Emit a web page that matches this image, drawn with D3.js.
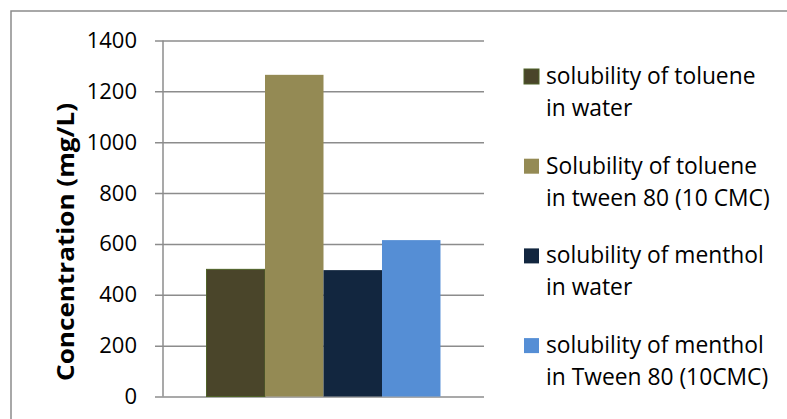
<!DOCTYPE html>
<html>
<head>
<meta charset="utf-8">
<script src="https://cdn.jsdelivr.net/npm/d3@7"></script>
<style>
  body { margin: 0; background: #fff; }
  text { font-family: "Open Sans", "Noto Sans", sans-serif; fill: #000; }
</style>
</head>
<body>
<div id="chart"></div>
<script>
// chart values
const categories = ["solubility"];
const seriesNames = [
  ["solubility of toluene", "in water"],
  ["Solubility of toluene", "in tween 80 (10 CMC)"],
  ["solubility of menthol", "in water"],
  ["solubility of menthol", "in Tween 80 (10CMC)"]
];
const seriesValues = [500, 1265, 497, 615];
const seriesColors = ["#4a452a", "#948a54", "#12263f", "#558ed5"];
const seriesStrokes = ["#4f6228", "none", "none", "none"];
const yTicks = [0, 200, 400, 600, 800, 1000, 1200, 1400];
const yTitle = "Concentration (mg/L)";

const width = 787, height = 419;
const margin = {top: 40.5, left: 163, right: 303, bottom: 22.5};

let svg = d3.select("#chart").append("svg")
    .attr("width", width)
    .attr("height", height);

// outer frame (only top and left edges are in view)
svg.append("path")
    .attr("d", "M11,419V11H787")
    .attr("fill", "none")
    .attr("stroke", "#8c8c8c")
    .attr("stroke-width", 1.5);

let plotW = width - margin.left - margin.right;
let plotH = height - margin.top - margin.bottom;

let y = d3.scaleLinear().domain([0, 1400]).range([plotH, 0]);
let x0 = d3.scaleBand().domain(categories).range([0, plotW]).paddingInner(0).paddingOuter(0.186);
let x1 = d3.scaleBand().domain(d3.range(seriesValues.length)).range([0, x0.bandwidth()]);

let g = svg.append("g").attr("transform", `translate(${margin.left},${margin.top})`);

// gridlines + ticks
let yAxis = d3.axisLeft(y).tickValues(yTicks).tickFormat(d3.format("d")).tickSize(-plotW).tickPadding(26);
let ya = g.append("g").call(yAxis);
ya.select(".domain").remove();
ya.selectAll(".tick line")
    .attr("x1", -8)
    .attr("stroke", "#8c8c8c")
    .attr("stroke-width", 1.5);
ya.selectAll(".tick text")
    .attr("font-size", "22px")
    .attr("font-family", "'Open Sans', sans-serif")
    .attr("fill", "#000");

// axis line
g.append("line")
    .attr("x1", 0).attr("x2", 0)
    .attr("y1", 0).attr("y2", plotH)
    .attr("stroke", "#8c8c8c")
    .attr("stroke-width", 1.5);

// bars
g.selectAll("rect.bar")
    .data(seriesValues)
    .join("rect")
    .attr("class", "bar")
    .attr("x", (d, i) => x0(categories[0]) + x1(i))
    .attr("width", x1.bandwidth())
    .attr("y", d => y(d))
    .attr("height", d => plotH - y(d))
    .attr("fill", (d, i) => seriesColors[i])
    .attr("stroke", (d, i) => seriesStrokes[i])
    .attr("stroke-width", 1);

// y title
svg.append("text")
    .attr("transform", "translate(74,242) rotate(-90)")
    .attr("text-anchor", "middle")
    .attr("font-size", "23px")
    .attr("font-weight", "bold")
    .attr("textLength", 278)
    .attr("lengthAdjust", "spacingAndGlyphs")
    .text(yTitle);

// legend
let legend = svg.append("g").attr("transform", "translate(524,69)");
let item = legend.selectAll("g")
    .data(seriesNames)
    .join("g")
    .attr("transform", (d, i) => `translate(0,${i * 89.7})`);
item.append("rect")
    .attr("width", 15).attr("height", 15)
    .attr("fill", (d, i) => seriesColors[i])
    .attr("stroke", (d, i) => seriesStrokes[i])
    .attr("stroke-width", 1);
item.each(function(d) {
  let t = d3.select(this).append("text")
      .attr("x", 22)
      .attr("y", 15)
      .attr("font-size", "22.8px");
  d.forEach((line, k) => {
    t.append("tspan").attr("x", 22).attr("dy", k === 0 ? 0 : 32).text(line);
  });
});
</script>
</body>
</html>
